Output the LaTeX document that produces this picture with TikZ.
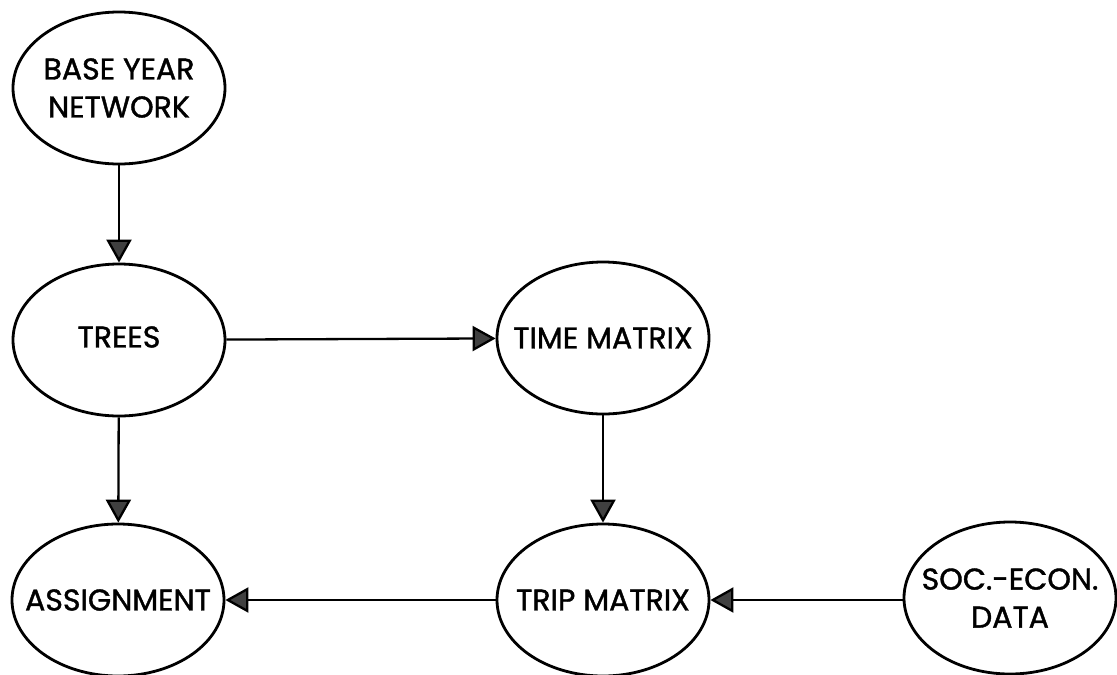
\documentclass[tikz,border=0pt]{standalone}
\usepackage{fontspec}
\newfontfamily\lblfont{Poppins}[FakeBold=1.3]
\usetikzlibrary{shapes.geometric,arrows.meta}
\begin{document}
\begin{tikzpicture}[x=1pt,y=-1pt,
  ell/.style={ellipse,draw=black,line width=2.8pt,minimum width=212pt,minimum height=152pt,inner sep=0pt},
  lbl/.style={font=\lblfont\fontsize{30}{38}\selectfont,align=center,inner sep=0pt},
  arr/.style={line width=2.3pt,-{Triangle[length=23pt,width=25pt,fill=black!75]}}
]
\useasboundingbox (0,0) rectangle (1117,675);
% ellipses
\node[ell] (base)   at (119,88)   {};
\node[ell] (trees)  at (119,340)  {};
\node[ell] (assign) at (118,600)  {};
\node[ell] (time)   at (603,338)  {};
\node[ell] (trip)   at (603,600)  {};
\node[ell] (soc)    at (1010,598) {};
% labels
\node[lbl] at (base)   {BASE YEAR\\NETWORK};
\node[lbl] at ([yshift=3pt]trees)  {TREES};
\node[lbl] at (assign) {ASSIGNMENT};
\node[lbl] at (time)   {TIME MATRIX};
\node[lbl] at (trip)   {TRIP MATRIX};
\node[lbl] at (soc)    {SOC.-ECON.\\DATA};
% connectors
\draw[arr] (base) -- (trees);
\draw[arr] (trees) -- (assign);
\draw[arr] (trees) -- (time);
\draw[arr] (time) -- (trip);
\draw[arr] (trip) -- (assign);
\draw[arr] (soc.west |- trip) -- (trip);
\end{tikzpicture}
\end{document}
